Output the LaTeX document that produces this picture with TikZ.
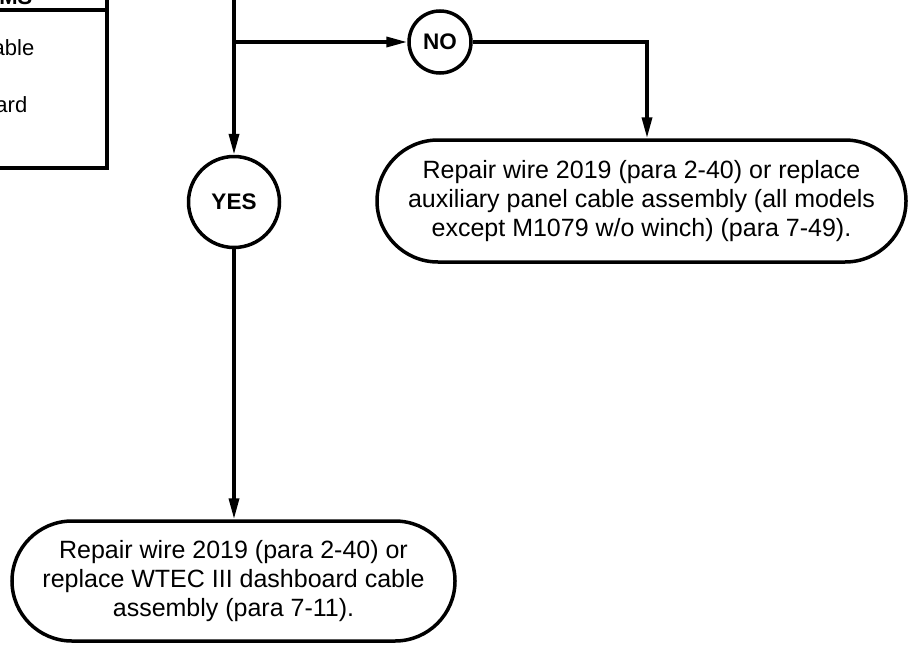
\documentclass[tikz,border=0pt]{standalone}
\usepackage{fontspec}
\setmainfont{Liberation Sans}
\usetikzlibrary{positioning, arrows.meta, shapes.misc}
\tikzset{every picture/.append style={thick}}
\tikzset{
  flowline/.style={line width=3.5pt, -{Triangle[length=21pt,width=10pt]}},
  frameline/.style={line width=3.5pt},
  answer/.style={circle, draw, line width=3.5pt, minimum size=62pt, inner sep=0pt,
    font=\fontsize{22.5}{26}\selectfont\bfseries},
  action/.style={rounded rectangle, draw, line width=3.5pt, align=center, inner sep=0pt,
    font=\fontsize{25}{29}\selectfont},
  cell/.style={anchor=base east, font=\fontsize{22}{26}\selectfont}
}

\begin{document}
\begin{tikzpicture}[x=1pt, y=-1pt]
        \useasboundingbox (0,0) rectangle (909,645);
        \clip (0,0) rectangle (909,645);

        % Table cut off at the top left
        \draw[frameline] (-20,10) -- (107,10);
        \draw[frameline] (107,-20) -- (107,168) -- (-20,168);
        \node[cell, font=\fontsize{22}{26}\selectfont\bfseries] (head) at (36,5) {MS};
        \node[cell] (rowa) at (38,55) {able};
        \node[cell] (rowb) at (31,112) {ard};

        % Question line coming from above
        \coordinate (top) at (234,-10);
        \coordinate (split) at (234,42);
        \coordinate (bend) at (647,42);

        % Answers
        \node[answer] (no) at (440,42) {NO};
        \node[answer, minimum size=91pt] (yes) at (234,202) {YES};

        % Actions
        \node[action, minimum width=529pt, minimum height=122pt] (fixaux) at (641.5,201)
            {Repair wire 2019 (para 2-40) or replace\\auxiliary panel cable assembly (all models\\except M1079 w/o winch) (para 7-49).};
        \node[action, minimum width=443pt, minimum height=120pt] (fixdash) at (233.5,581)
            {Repair wire 2019 (para 2-40) or\\replace WTEC III dashboard cable\\assembly (para 7-11).};

        % Connectors
        \draw[flowline] (top) -- (yes);
        \draw[flowline] (split) -- (no);
        \draw[flowline] (no) -- (bend) -- (fixaux.north -| bend);
        \draw[flowline] (yes) -- (yes |- fixdash.north);

    \end{tikzpicture}
\end{document}
